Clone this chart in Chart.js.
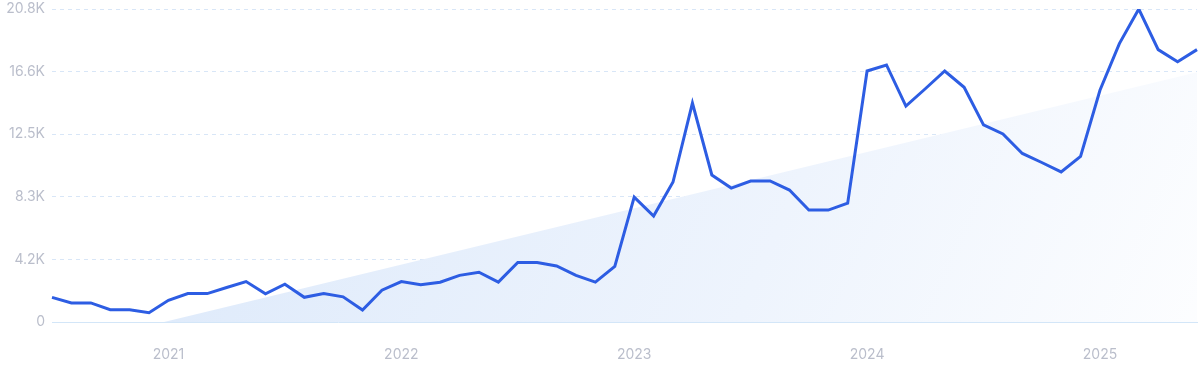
<!DOCTYPE html>
<html>
<head>
<meta charset="utf-8">
<script src="https://cdn.jsdelivr.net/npm/chart.js@4"></script>
<style>
  html, body { margin: 0; padding: 0; background: #ffffff; }
  #wrap { width: 1200px; height: 371px; }
</style>
</head>
<body>
<div id="wrap"><canvas id="trendChart" width="1200" height="371"></canvas></div>
<script>
// Months shown on the x axis (Jul 2020 - Jun 2025)
const months = [
  '2020-07', '2020-08', '2020-09', '2020-10', '2020-11', '2020-12',
  '2021-01', '2021-02', '2021-03', '2021-04', '2021-05', '2021-06',
  '2021-07', '2021-08', '2021-09', '2021-10', '2021-11', '2021-12',
  '2022-01', '2022-02', '2022-03', '2022-04', '2022-05', '2022-06',
  '2022-07', '2022-08', '2022-09', '2022-10', '2022-11', '2022-12',
  '2023-01', '2023-02', '2023-03', '2023-04', '2023-05', '2023-06',
  '2023-07', '2023-08', '2023-09', '2023-10', '2023-11', '2023-12',
  '2024-01', '2024-02', '2024-03', '2024-04', '2024-05', '2024-06',
  '2024-07', '2024-08', '2024-09', '2024-10', '2024-11', '2024-12',
  '2025-01', '2025-02', '2025-03', '2025-04', '2025-05', '2025-06'
];

// Monthly search volume
const volume = [
  1640, 1270, 1270, 820, 820, 620,
  1440, 1890, 1890, 2290, 2690, 1870, 2510, 1640, 1890, 1670, 800, 2110,
  2690, 2480, 2640, 3100, 3310, 2650, 3950, 3950, 3720, 3100, 2650, 3700,
  8300, 7040, 9300, 14550, 9770, 8900, 9370, 9370, 8770, 7440, 7440, 7900,
  16680, 17080, 14350, 15500, 16680, 15600, 13100, 12500, 11200, 10600, 9970, 11000,
  15400, 18500, 20800, 18100, 17300, 18100
];

// Trend line end points (first and last month)
const trendStart = -1800;
const trendEnd = 16600;

// Y axis ticks
const yTicks = [0, 4160, 8320, 12480, 16640, 20800];

const labelFont = { family: 'Inter, "Open Sans", sans-serif', size: 14 };
const labelColor = '#babecb';

function trendFill(context) {
  const area = context.chart.chartArea;
  if (!area) return 'rgba(220,233,250,0.8)';
  const g = context.chart.ctx.createLinearGradient(area.left, area.top, area.right, area.bottom + 200);
  g.addColorStop(0, '#d9e7fa');
  g.addColorStop(0.6, '#eef4fd');
  g.addColorStop(1, '#ffffff');
  return g;
}

const ctx = document.getElementById('trendChart').getContext('2d');
new Chart(ctx, {
  type: 'line',
  data: {
    labels: months,
    datasets: [
      {
        label: 'Volume',
        data: volume,
        borderColor: '#2d5de3',
        borderWidth: 3,
        pointRadius: 0,
        tension: 0,
        fill: false,
        order: 0
      },
      {
        label: 'Trend',
        data: [
          { x: months[0], y: trendStart },
          { x: months[months.length - 1], y: trendEnd }
        ],
        borderWidth: 0,
        borderColor: 'rgba(0,0,0,0)',
        backgroundColor: trendFill,
        pointRadius: 0,
        fill: 'origin',
        order: 1
      }
    ]
  },
  options: {
    responsive: false,
    animation: false,
    layout: { padding: { top: 0, right: 3, left: 0, bottom: 0 } },
    plugins: {
      legend: { display: false },
      tooltip: { enabled: false }
    },
    scales: {
      x: {
        type: 'category',
        offset: false,
        grid: { display: false, drawTicks: false },
        border: { display: true, color: '#d3e6f8', width: 1 },
        ticks: {
          autoSkip: false,
          maxRotation: 0,
          padding: 24,
          color: labelColor,
          font: labelFont,
          callback: function (value, index) {
            const m = months[index];
            return m.endsWith('-01') ? m.slice(0, 4) : null;
          }
        },
        afterFit: function (scale) { scale.height = 49; }
      },
      y: {
        min: 0,
        max: 20800,
        afterBuildTicks: function (scale) {
          scale.ticks = yTicks.map(v => ({ value: v }));
        },
        grid: {
          color: '#d8e6f7',
          lineWidth: 1,
          drawTicks: false
        },
        border: { display: false, dash: [4, 4] },
        ticks: {
          padding: 7,
          color: labelColor,
          font: labelFont,
          callback: function (v) {
            return v === 0 ? '0' : (v / 1000).toFixed(1) + 'K';
          }
        },
        afterFit: function (scale) {
          scale.width = 52;
          scale.paddingTop = 9;
          scale.paddingBottom = 0;
        }
      }
    }
  }
});
</script>
</body>
</html>
